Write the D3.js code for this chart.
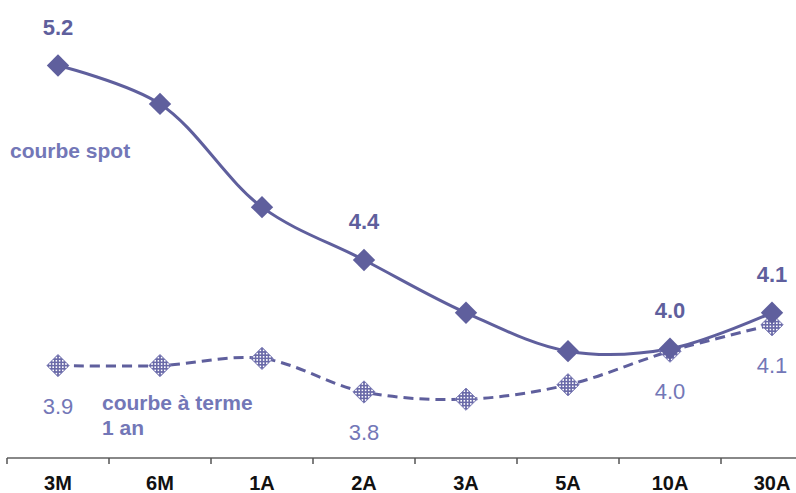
<!DOCTYPE html>
<html><head><meta charset="utf-8">
<script src="https://cdn.jsdelivr.net/npm/d3@7"></script>
<style>body{margin:0;background:#fff}svg{display:block}</style>
</head><body>
<svg id="c" width="796" height="493"></svg>
<script>
const categories = ["3M","6M","1A","2A","3A","5A","10A","30A"];
const spot = [5.17, 5.01, 4.58, 4.36, 4.14, 3.98, 3.99, 4.14];
const forward = [3.92, 3.92, 3.95, 3.81, 3.78, 3.84, 3.98, 4.09];
const spotLabels = [{i:0,t:"5.2"},{i:3,t:"4.4"},{i:6,t:"4.0"},{i:7,t:"4.1"}];
const fwdLabels = [{i:0,t:"3.9"},{i:3,t:"3.8"},{i:6,t:"4.0"},{i:7,t:"4.1"}];

const svg = d3.select("#c");
const line = "#5f5f9d", lbl = "#7377b7";
const x = d3.scaleBand().domain(categories).range([7, 823]);
const cx = d => x(d) + x.bandwidth()/2;
const y = d3.scaleLinear().domain([3.535, 5.443]).range([458, 0]);

const defs = svg.append("defs");
const pat = defs.append("pattern").attr("id","hatch").attr("patternUnits","userSpaceOnUse")
  .attr("width",3.2).attr("height",3.2).attr("patternTransform","rotate(45)");
pat.append("rect").attr("width",3.2).attr("height",3.2).attr("fill","#6a6aa8");
pat.append("rect").attr("x",0.8).attr("y",0.8).attr("width",1.6).attr("height",1.6).attr("fill","#fff");

// axis
const axis = d3.axisBottom(x).tickSize(0).tickFormat("");
const ag = svg.append("g").attr("transform","translate(0,458)").call(axis);
ag.select(".domain").attr("stroke","#888").attr("stroke-width",2).attr("d","M7,0H796");
ag.selectAll(".tick").remove();
const bounds = d3.range(categories.length).map(i => x(categories[i]));
svg.append("g").selectAll("line").data(bounds).join("line")
  .attr("x1",d=>d).attr("x2",d=>d).attr("y1",458).attr("y2",464)
  .attr("stroke","#555").attr("stroke-width",1.5);
const ff = "Liberation Sans, Arial, sans-serif";
svg.append("g").selectAll("text").data(categories).join("text")
  .attr("x",d=>cx(d)).attr("y",490).attr("text-anchor","middle")
  .attr("font-family",ff).attr("font-weight","bold")
  .attr("font-size",20).attr("fill","#111").text(d=>d);

const gen = d3.line().x((d,i)=>cx(categories[i])).y(d=>y(d)).curve(d3.curveCatmullRom.alpha(0.5));

svg.append("path").attr("d",gen(forward)).attr("fill","none").attr("stroke",line)
  .attr("stroke-width",3).attr("stroke-dasharray","10,6");
svg.append("path").attr("d",gen(spot)).attr("fill","none").attr("stroke",line).attr("stroke-width",3);

const diamond = d3.symbol().type(d3.symbolSquare).size(250);
svg.append("g").selectAll("path").data(forward).join("path")
  .attr("d",diamond).attr("transform",(d,i)=>`translate(${cx(categories[i])},${y(d)}) rotate(45)`)
  .attr("fill","url(#hatch)").attr("stroke","#7a7ab5").attr("stroke-width",0.8);
svg.append("g").selectAll("path").data(spot).join("path")
  .attr("d",diamond).attr("transform",(d,i)=>`translate(${cx(categories[i])},${y(d)}) rotate(45)`)
  .attr("fill",line);

svg.append("g").selectAll("text").data(spotLabels).join("text")
  .attr("x",d=>cx(categories[d.i])).attr("y",d=>y(spot[d.i])-31)
  .attr("text-anchor","middle").attr("font-family",ff).attr("font-weight","bold")
  .attr("font-size",22).attr("fill",line).text(d=>d.t);
svg.append("g").selectAll("text").data(fwdLabels).join("text")
  .attr("x",d=>cx(categories[d.i])).attr("y",d=>y(forward[d.i])+48)
  .attr("text-anchor","middle").attr("font-family",ff)
  .attr("font-size",22).attr("fill",lbl).text(d=>d.t);

svg.append("text").attr("x",10).attr("y",158).attr("font-family",ff).attr("font-weight","bold")
  .attr("font-size",21).attr("fill",lbl).text("courbe spot");
const t2 = svg.append("text").attr("font-family",ff).attr("font-weight","bold")
  .attr("font-size",21).attr("fill",lbl);
t2.append("tspan").attr("x",102).attr("y",410).text("courbe à terme");
t2.append("tspan").attr("x",102).attr("y",435).text("1 an");
</script>
</body></html>
